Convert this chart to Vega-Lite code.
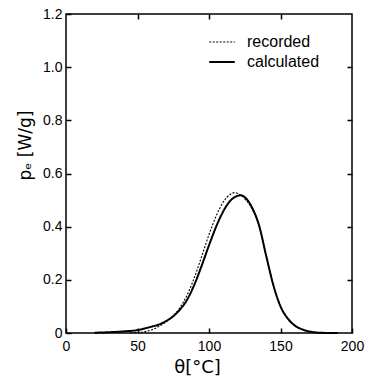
{
  "$schema": "https://vega.github.io/schema/vega-lite/v6.json",
  "autosize": {"type": "none"},
  "padding": {"left": 66, "top": 14, "right": 18, "bottom": 49},
  "width": 286,
  "height": 319,
  "background": "white",
  "config": {
    "view": {"stroke": "black", "strokeWidth": 1.5},
    "font": "Liberation Sans",
    "axis": {"grid": false, "domain": false, "tickColor": "black", "tickSize": -5, "tickWidth": 1.5, "labelColor": "black", "labelFont": "Liberation Sans", "labelFontSize": 14, "titleColor": "black", "titleFont": "DejaVu Sans", "titleFontWeight": "normal"}
  },
  "data": {
    "values": [
      {"t": 20, "p": 0.001, "s": "calculated"},
      {"t": 30, "p": 0.003, "s": "calculated"},
      {"t": 40, "p": 0.006, "s": "calculated"},
      {"t": 50, "p": 0.011, "s": "calculated"},
      {"t": 55, "p": 0.017, "s": "calculated"},
      {"t": 60, "p": 0.024, "s": "calculated"},
      {"t": 65, "p": 0.032, "s": "calculated"},
      {"t": 70, "p": 0.045, "s": "calculated"},
      {"t": 75, "p": 0.063, "s": "calculated"},
      {"t": 80, "p": 0.09, "s": "calculated"},
      {"t": 85, "p": 0.128, "s": "calculated"},
      {"t": 90, "p": 0.185, "s": "calculated"},
      {"t": 95, "p": 0.255, "s": "calculated"},
      {"t": 100, "p": 0.33, "s": "calculated"},
      {"t": 105, "p": 0.4, "s": "calculated"},
      {"t": 110, "p": 0.458, "s": "calculated"},
      {"t": 115, "p": 0.498, "s": "calculated"},
      {"t": 120, "p": 0.516, "s": "calculated"},
      {"t": 122, "p": 0.518, "s": "calculated"},
      {"t": 125, "p": 0.511, "s": "calculated"},
      {"t": 130, "p": 0.473, "s": "calculated"},
      {"t": 135, "p": 0.405, "s": "calculated"},
      {"t": 140, "p": 0.29, "s": "calculated"},
      {"t": 145, "p": 0.18, "s": "calculated"},
      {"t": 150, "p": 0.1, "s": "calculated"},
      {"t": 155, "p": 0.055, "s": "calculated"},
      {"t": 160, "p": 0.028, "s": "calculated"},
      {"t": 165, "p": 0.014, "s": "calculated"},
      {"t": 170, "p": 0.006, "s": "calculated"},
      {"t": 175, "p": 0.002, "s": "calculated"},
      {"t": 180, "p": 0.0005, "s": "calculated"},
      {"t": 190, "p": 0, "s": "calculated"},
      {"t": 45, "p": 0, "s": "recorded"},
      {"t": 50, "p": 0.002, "s": "recorded"},
      {"t": 55, "p": 0.005, "s": "recorded"},
      {"t": 60, "p": 0.012, "s": "recorded"},
      {"t": 65, "p": 0.025, "s": "recorded"},
      {"t": 70, "p": 0.042, "s": "recorded"},
      {"t": 75, "p": 0.065, "s": "recorded"},
      {"t": 80, "p": 0.098, "s": "recorded"},
      {"t": 85, "p": 0.146, "s": "recorded"},
      {"t": 90, "p": 0.212, "s": "recorded"},
      {"t": 95, "p": 0.29, "s": "recorded"},
      {"t": 100, "p": 0.37, "s": "recorded"},
      {"t": 105, "p": 0.44, "s": "recorded"},
      {"t": 110, "p": 0.493, "s": "recorded"},
      {"t": 115, "p": 0.522, "s": "recorded"},
      {"t": 118, "p": 0.528, "s": "recorded"},
      {"t": 120, "p": 0.525, "s": "recorded"},
      {"t": 125, "p": 0.505, "s": "recorded"},
      {"t": 130, "p": 0.468, "s": "recorded"},
      {"t": 135, "p": 0.403, "s": "recorded"},
      {"t": 140, "p": 0.29, "s": "recorded"},
      {"t": 145, "p": 0.18, "s": "recorded"},
      {"t": 150, "p": 0.1, "s": "recorded"},
      {"t": 155, "p": 0.056, "s": "recorded"},
      {"t": 160, "p": 0.029, "s": "recorded"},
      {"t": 165, "p": 0.014, "s": "recorded"},
      {"t": 170, "p": 0.006, "s": "recorded"},
      {"t": 175, "p": 0.002, "s": "recorded"},
      {"t": 180, "p": 0, "s": "recorded"}
    ]
  },
  "resolve": {"axis": {"x": "independent", "y": "independent"}},
  "layer": [
    {
      "mark": {"type": "line", "interpolate": "monotone", "color": "black"},
      "encoding": {
        "x": {"field": "t", "type": "quantitative", "scale": {"domain": [0, 200], "nice": false},
              "axis": {"values": [0, 50, 100, 150, 200], "title": "θ[°C]", "titleFontSize": 18, "titleY": 25, "titleBaseline": "top", "titleX": 131, "labelPadding": 11, "labelFlush": false}},
        "y": {"field": "p", "type": "quantitative", "scale": {"domain": [0, 1.2], "nice": false},
              "axis": {"values": [0, 0.2, 0.4, 0.6, 0.8, 1.0, 1.2], "labelExpr": "datum.value == 0 ? '0' : format(datum.value, '.1f')", "title": "pₑ [W/g]", "titleFontSize": 17, "titlePadding": 8, "titleY": 131, "labelPadding": 9}},
        "strokeDash": {"field": "s", "type": "nominal",
          "scale": {"domain": ["recorded", "calculated"], "range": [[2, 1.5], [1, 0]]},
          "legend": {"title": null, "orient": "none", "legendX": 147, "legendY": 19, "symbolType": "M-1.6,0H1.6", "symbolSize": 256, "symbolStrokeColor": "black", "labelFontSize": 16, "labelColor": "black", "labelFont": "Liberation Sans", "rowPadding": 3, "labelOffset": 16}},
        "strokeWidth": {"field": "s", "type": "nominal",
          "scale": {"domain": ["recorded", "calculated"], "range": [1.1, 2]}, "legend": null}
      }
    },
    {
      "mark": {"type": "line", "strokeOpacity": 0},
      "encoding": {
        "x": {"field": "t", "type": "quantitative", "axis": {"orient": "top", "values": [50, 100, 150], "labels": false, "title": null}},
        "y": {"field": "p", "type": "quantitative", "axis": {"orient": "right", "values": [0.2, 0.4, 0.6, 0.8, 1.0], "labels": false, "title": null}}
      }
    }
  ]
}
